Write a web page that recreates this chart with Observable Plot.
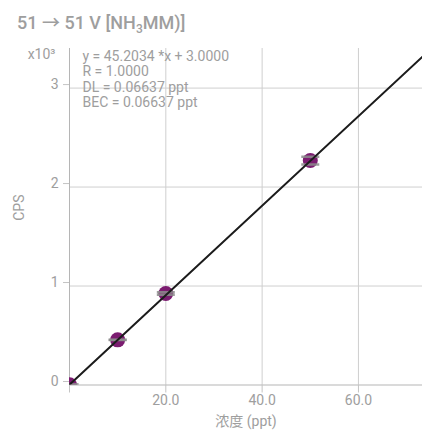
<!DOCTYPE html>
<html>
<head>
<meta charset="utf-8">
<script src="https://cdn.jsdelivr.net/npm/d3@7"></script>
<script src="https://cdn.jsdelivr.net/npm/@observablehq/plot@0.6"></script>
<style>
  body { margin: 0; background: #fff; font-family: Roboto, "Noto Sans CJK SC", sans-serif; }
  #title { position: absolute; left: 17px; top: 8px; font-size: 18px; font-weight: 500; color: #9e9e9e; white-space: nowrap; }
  #title sub { font-size: 12px; vertical-align: -4px; line-height: 0; }
  #chart { position: absolute; left: 0; top: 36px; }
</style>
</head>
<body>
<div id="title">51 → 51 V [NH<sub>3</sub>MM)]</div>
<div id="chart"></div>
<script>
// Calibration standards (ppt) and their mean counts per second
const concentrations = [0, 10, 20, 50];
const meanCps = [3, 456, 925, 2268];

// Individual replicate readings for each standard
const replicateConc = [0, 0, 10, 10, 20, 20, 50, 50];
const replicateCps = [2, 4, 454, 458, 911, 937, 2228, 2306];

// Regression result
const slope = 45.2034;
const intercept = 3.0;
const statLines = [
  "y = 45.2034 *x + 3.0000",
  "R = 1.0000",
  "DL = 0.06637 ppt",
  "BEC = 0.06637 ppt"
];

// Axes
const xDomain = [0, 73.3];
const yDomain = [0, 3400];
const xTicks = [0, 20, 40, 60];
const yTicks = [0, 1000, 2000, 3000];
const xLabel = "浓度 (ppt)";
const yLabel = "CPS";
const yUnit = "x10³";

const standards = concentrations.map((c, i) => ({conc: c, cps: meanCps[i]}));
const replicates = replicateConc.map((c, i) => ({conc: c, cps: replicateCps[i]}));
const fitLine = xDomain.map(x => ({conc: x, cps: slope * x + intercept}));

// Short horizontal bar used to mark each replicate reading
const dash = {
  draw(context, size) {
    const r = Math.sqrt(size / Math.PI);
    context.moveTo(-r, 0);
    context.lineTo(r, 0);
  }
};

const gray = "#9e9e9e";

const chart = Plot.plot({
  width: 422,
  height: 395,
  marginLeft: 69,
  marginRight: 0,
  marginTop: 12,
  marginBottom: 46.5,
  style: {fontFamily: "Roboto, 'Noto Sans CJK SC', sans-serif", background: "#fff"},
  x: {domain: xDomain},
  y: {domain: yDomain},
  marks: [
    Plot.gridX(xTicks.filter(d => d > 0), {stroke: "#cfcfcf", strokeOpacity: 1}),
    Plot.gridY(yTicks.filter(d => d > 0), {stroke: "#cfcfcf", strokeOpacity: 1}),
    Plot.ruleX([0], {stroke: "#b5b5b5"}),
    Plot.ruleY([0], {stroke: "#b5b5b5"}),
    Plot.axisX(xTicks, {
      tickSize: 8, tickPadding: 2, stroke: "#c4c4c4", fill: gray, fontSize: 14,
      tickFormat: d => d === 0 ? "" : d.toFixed(1), label: null
    }),
    Plot.axisY(yTicks, {
      tickSize: 6, tickPadding: 5, stroke: "#c4c4c4", fill: gray, fontSize: 14, dy: -3.5,
      tickFormat: d => String(d / 1000), label: null
    }),
    Plot.text([xLabel], {frameAnchor: "bottom", dy: 41, fill: gray, fontSize: 14}),
    Plot.text([yLabel], {frameAnchor: "left", dx: -50, dy: 4, rotate: -90, fill: gray, fontSize: 14}),
    Plot.text([yUnit], {frameAnchor: "top-left", dx: -14, dy: 1, textAnchor: "end", fill: gray, fontSize: 14}),
    Plot.text([statLines.join("\n")], {
      frameAnchor: "top-left", dx: 13, dy: 1.5, lineAnchor: "top", textAnchor: "start",
      lineHeight: 1.1, fill: gray, fontSize: 14
    }),
    Plot.dot(standards, {x: "conc", y: "cps", r: 7.5, fill: "#7b1c70", stroke: "none", clip: true}),
    Plot.dot(replicates, {x: "conc", y: "cps", r: 9, symbol: dash, stroke: "#8c8c8c", strokeOpacity: 0.85, strokeWidth: 2.5, clip: true}),
    Plot.line(fitLine, {x: "conc", y: "cps", stroke: "#1c1c1c", strokeWidth: 2, clip: true})
  ]
});
document.getElementById("chart").appendChild(chart);
</script>
</body>
</html>
